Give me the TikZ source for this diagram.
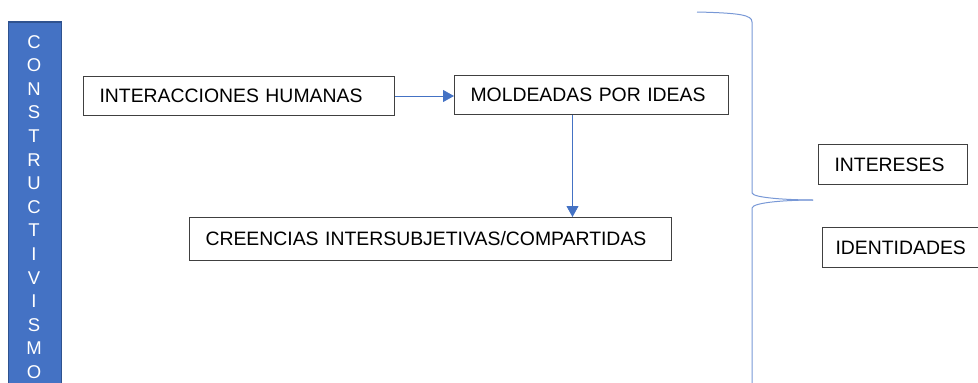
\documentclass[tikz,border=0pt]{standalone}
\usepackage{fontspec}
\setmainfont{Liberation Sans}
\usetikzlibrary{arrows.meta,positioning}
\definecolor{azul}{RGB}{68,114,196}
\definecolor{azuloscuro}{RGB}{47,82,143}
\definecolor{azulclaro}{RGB}{120,152,214}
\definecolor{borde}{RGB}{64,64,64}

\begin{document}
\begin{tikzpicture}[x=1pt,y=-1pt]
 \tikzset{main node/.style={rectangle, draw=borde, line width=1pt,
 		anchor=north west, align=left, inner xsep=16pt, inner ysep=0pt,
 		font=\fontsize{19.4}{22}\selectfont}, }
 \tikzset{barra node/.style={rectangle, draw=azuloscuro, fill=azul,
 		line width=1.5pt, anchor=north west,
 		minimum width=53pt, minimum height=380pt}, }
 \tikzset{letra node/.style={text=white, inner sep=0pt,
 		font=\fontsize{18.5}{18.5}\selectfont}, }
 \tikzset{linea/.style={draw=azul, line width=0.8pt,
 		-{Triangle[width=12pt,length=11pt]}},}
 \tikzset{llave/.style={draw=azulclaro, line width=1pt},}
 \useasboundingbox (0,0) rectangle (978,383);
 \node[barra node] (0) at (7.5,21) {};
 \foreach \l [count=\i] in {C,O,N,S,T,R,U,C,T,I,V,I,S,M,O}
 \node[letra node] (l\i) at (34,{41.7+23.6*(\i-1)}) {\l};
 \node[main node, text width=279pt, minimum height=39pt] (1) at (83,76) {INTERACCIONES HUMANAS};
 \node[main node, text width=242pt, minimum height=39pt] (2) at (454,75) {MOLDEADAS POR IDEAS};
 \node[main node, text width=450pt, minimum height=43pt] (3) at (189,217) {CREENCIAS INTERSUBJETIVAS/COMPARTIDAS};
 \node[main node, text width=117pt, minimum height=40pt] (4) at (818,144) {INTERESES};
 \node[main node, text width=130pt, inner xsep=13pt, minimum height=40pt] (5) at (822,227) {IDENTIDADES};
 \draw[linea] (1.east) -- (1.east -| 2.west);
 \draw[linea] ([xshift=-19pt]2.south) -- ([xshift=-19pt]2.south |- 3.north);
 % llave
 \draw[llave] (697,12) .. controls (740,13) and (752,15) .. (752,22)
 	-- (752,193) .. controls (753,198) and (790,200) .. (813,200);
 \draw[llave] (813,200) .. controls (790,200) and (753,202) .. (752,208)
 	-- (752,390);
 \end{tikzpicture}
\end{document}
